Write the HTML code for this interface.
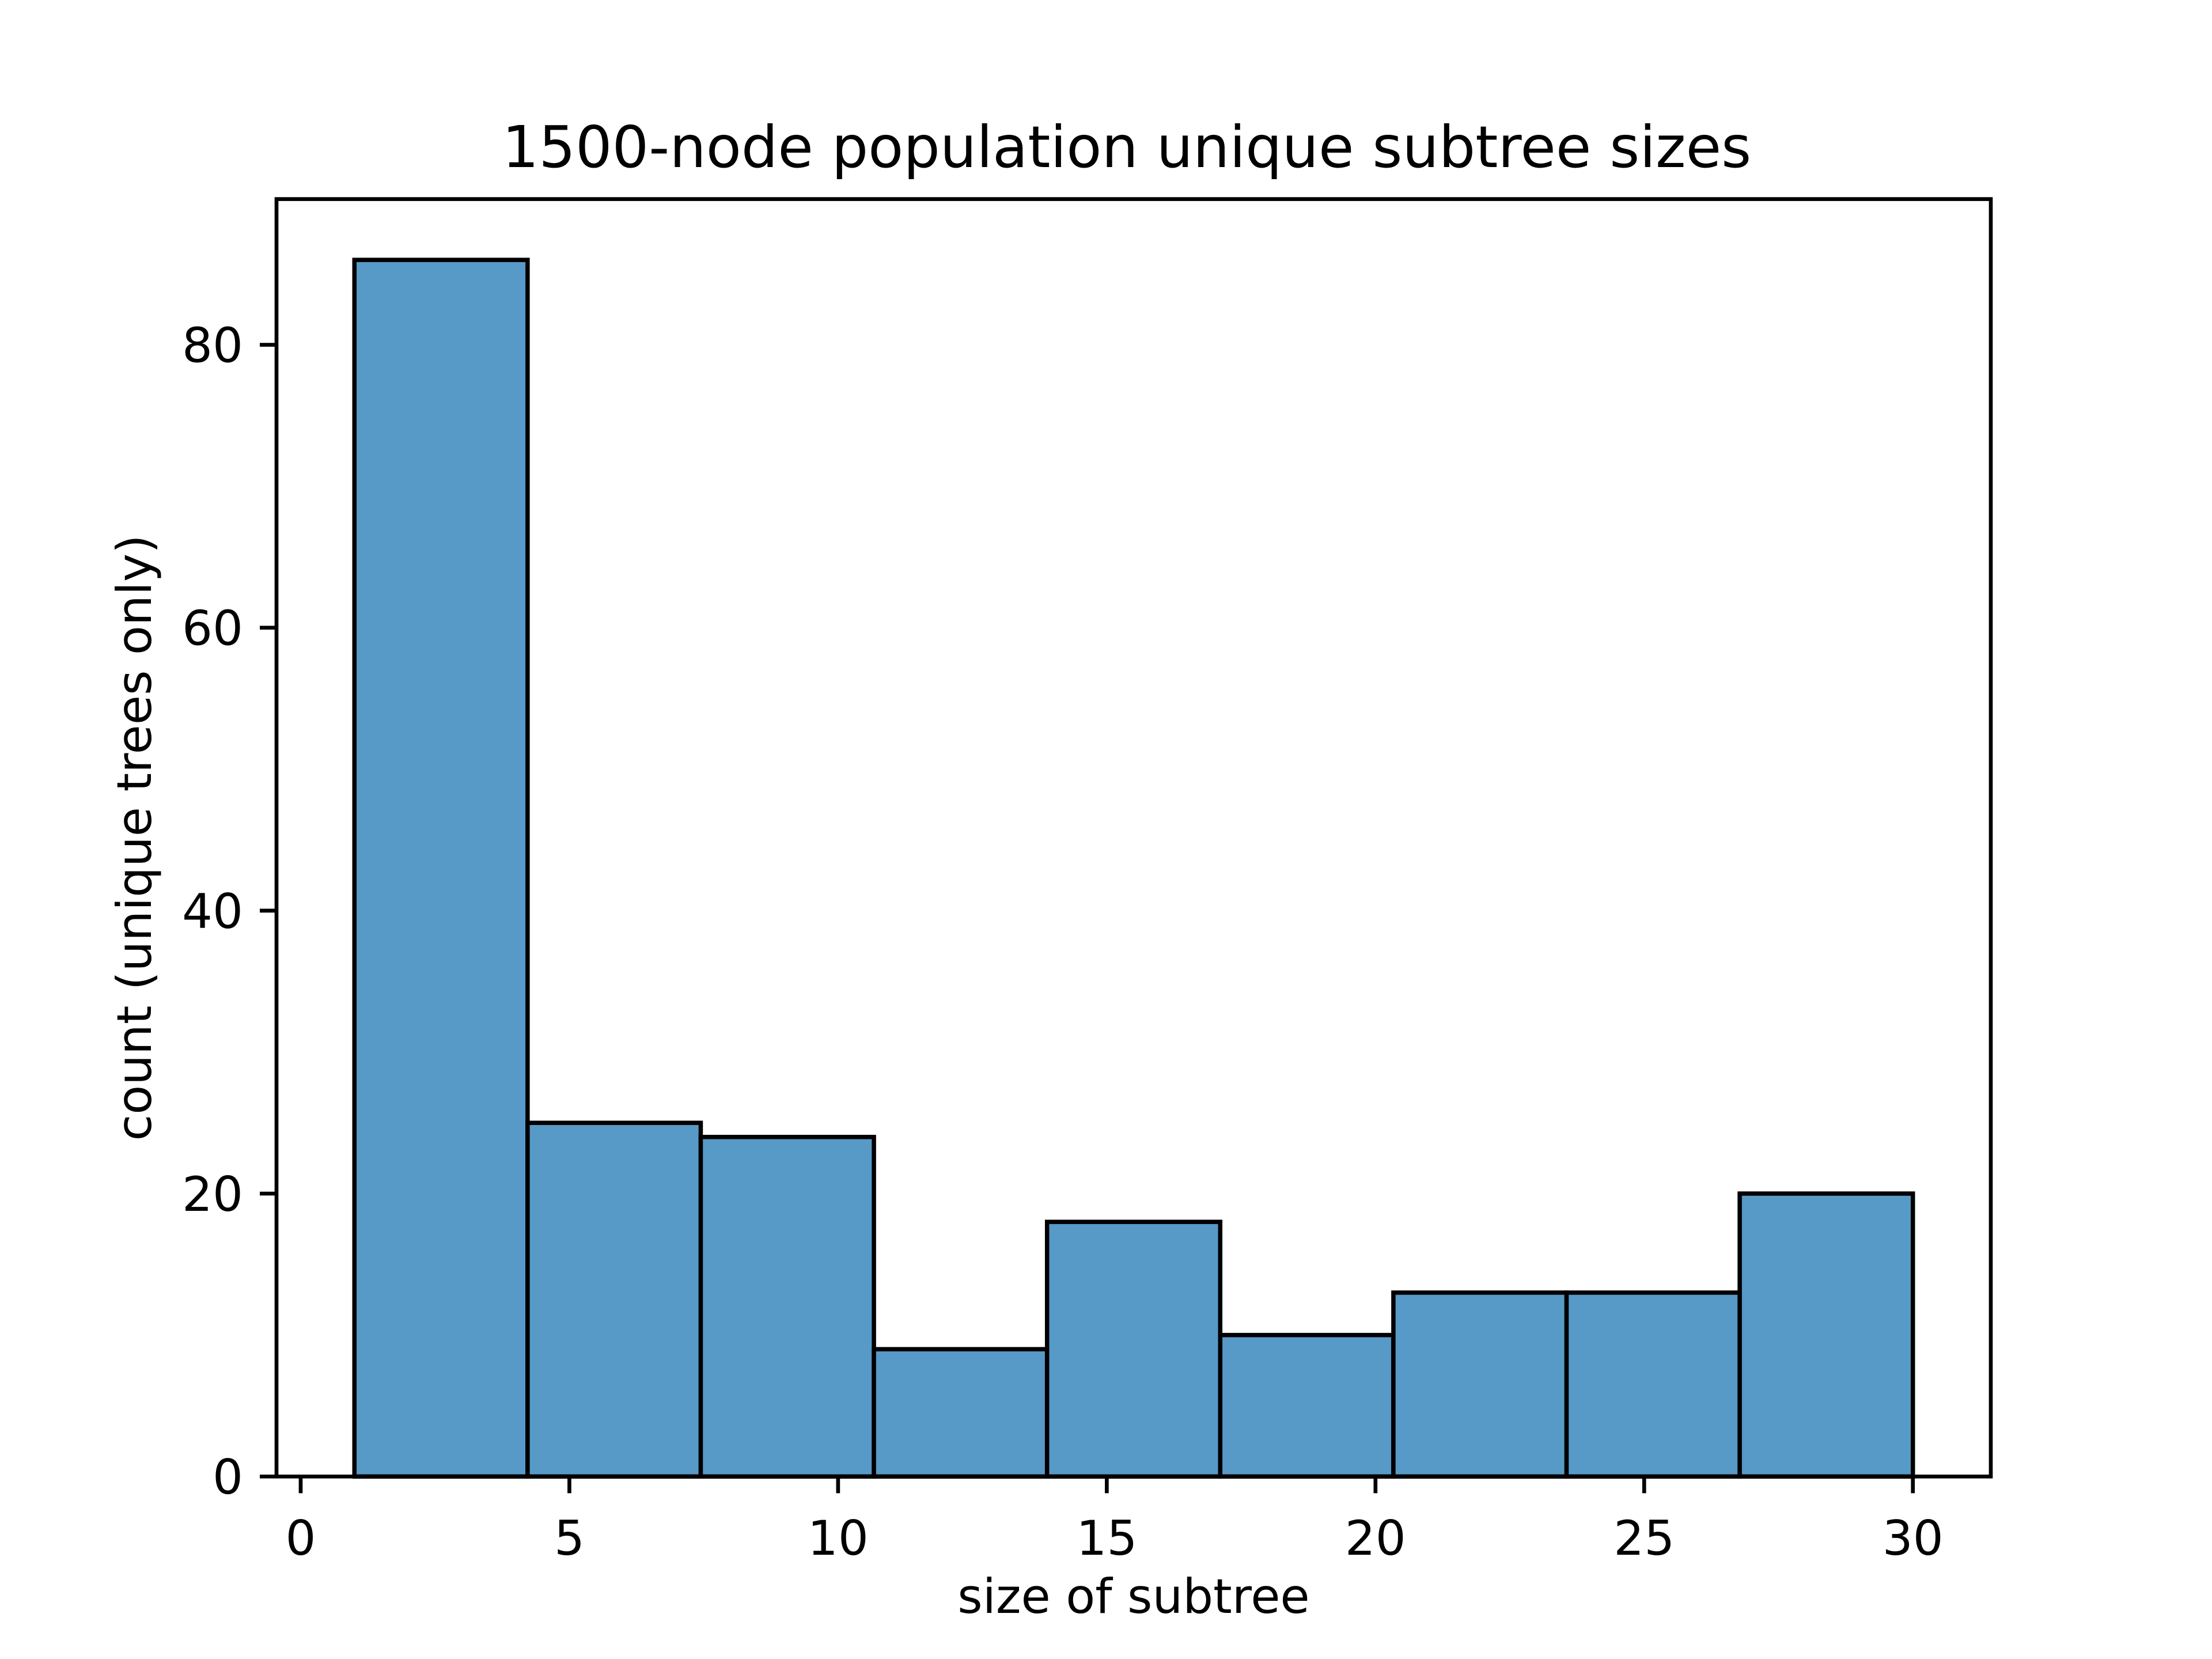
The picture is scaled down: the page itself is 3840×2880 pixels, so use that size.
<!DOCTYPE html>
<html><head><meta charset="utf-8">
<style>
html,body{margin:0;padding:0;background:#fff;}
svg{display:block;}
text{font-family:"DejaVu Sans","Liberation Sans",sans-serif;fill:#000;}
</style></head>
<body>
<svg id="chart" width="3840" height="2880" viewBox="0 0 3840 2880" xmlns="http://www.w3.org/2000/svg">
<rect width="3840" height="2880" fill="#fff"/>
<text x="1956" y="290" font-size="100" text-anchor="middle">1500-node population unique subtree sizes</text>
<g id="bars"></g>
<g id="xticks"></g>
<g id="yticks"></g>
<rect x="480" y="345.6" width="2976" height="2217.6" fill="none" stroke="#000" stroke-width="6.67"/>
<text x="1968" y="2800" font-size="83.3" text-anchor="middle">size of subtree</text>
<text transform="translate(262,1454.4) rotate(-90)" font-size="83.3" text-anchor="middle">count (unique trees only)</text>
</svg>
<script>
const binStart = 1;
const binEnd = 30;
const counts = [86, 25, 24, 9, 18, 10, 13, 13, 20];
const xTickValues = [0, 5, 10, 15, 20, 25, 30];
const yTickValues = [0, 20, 40, 60, 80];

const NS = "http://www.w3.org/2000/svg";
const L = 480, R = 3456, T = 345.6, B = 2563.2;
const span = binEnd - binStart;
const xmin = binStart - 0.05 * span, xmax = binEnd + 0.05 * span;
const ymax = Math.max(...counts) * 1.05;
function sx(v){ return L + (v - xmin) / (xmax - xmin) * (R - L); }
function sy(v){ return B - v / ymax * (B - T); }
function mk(tag, attrs){ const e = document.createElementNS(NS, tag); for (const k in attrs) e.setAttribute(k, attrs[k]); return e; }

const bw = span / counts.length;
const gb = document.getElementById('bars');
counts.forEach((c, i) => {
  const x0 = sx(binStart + i * bw), x1 = sx(binStart + (i + 1) * bw);
  const r = mk('rect', {x: x0, y: sy(c), width: x1 - x0, height: sy(0) - sy(c), fill: '#5799c7', stroke: '#000', 'stroke-width': 7.5});
  
  
  gb.appendChild(r);
});

const gx = document.getElementById('xticks');
xTickValues.forEach(v => {
  const x = sx(v);
  const t = mk('line', {x1: x, x2: x, y1: B, y2: B + 29, stroke: '#000', 'stroke-width': 6.67});
  
  
  gx.appendChild(t);
  const l = mk('text', {x: x, y: B + 29 + 29 + 78, 'font-size': 83.3, 'text-anchor': 'middle'});
  l.textContent = v;
  
  
  gx.appendChild(l);
});

const gy = document.getElementById('yticks');
yTickValues.forEach(v => {
  const y = sy(v);
  const t = mk('line', {x1: L - 29, x2: L, y1: y, y2: y, stroke: '#000', 'stroke-width': 6.67});
  
  
  gy.appendChild(t);
  const l = mk('text', {x: L - 29 - 29, y: y + 30, 'font-size': 83.3, 'text-anchor': 'end'});
  l.textContent = v;
  
  
  gy.appendChild(l);
});
</script>
</body></html>
